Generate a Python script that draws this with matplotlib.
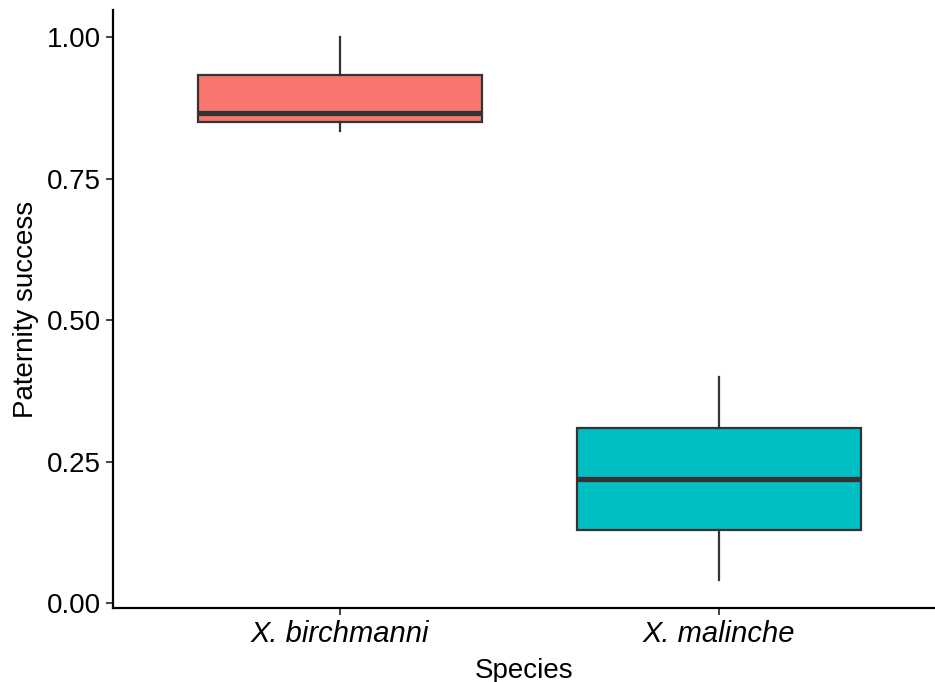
import matplotlib
matplotlib.use("Agg")
import matplotlib.pyplot as plt

plt.rcParams['font.family'] = ['Liberation Sans', 'DejaVu Sans']

# box statistics
species = ["X. birchmanni", "X. malinche"]
whis_lo = [0.834, 0.041]
q1 = [0.850, 0.130]
median = [0.866, 0.219]
q3 = [0.933, 0.310]
whis_hi = [1.000, 0.400]
fills = ["#F8766D", "#00BFC4"]

stats = []
for i, name in enumerate(species):
    stats.append({"label": name, "whislo": whis_lo[i], "q1": q1[i], "med": median[i],
                  "q3": q3[i], "whishi": whis_hi[i], "fliers": []})

fig = plt.figure(figsize=(9.35, 6.82), dpi=100)
# axes position in pixels: left 113, right 935, top 10, bottom 608
ax = fig.add_axes([113/935, 1 - 608/682, (935-113)/935, (608-10)/682])

bp = ax.bxp(stats, positions=[1, 2], widths=0.75, patch_artist=True, showcaps=False,
            boxprops=dict(edgecolor="#333333", linewidth=1.6),
            whiskerprops=dict(color="#333333", linewidth=1.6),
            medianprops=dict(color="#333333", linewidth=3.8))
for patch, c in zip(bp["boxes"], fills):
    patch.set_facecolor(c)

ax.set_xlim(0.4, 2.57)
ax.set_ylim(-0.008, 1.048)
ax.set_yticks([0, 0.25, 0.5, 0.75, 1.0])
ax.set_yticklabels(["0.00", "0.25", "0.50", "0.75", "1.00"])
ax.set_xticks([1, 2])
ax.set_xticklabels(species, style="italic", fontsize=21)

for s in ["top", "right"]:
    ax.spines[s].set_visible(False)
for s in ["left", "bottom"]:
    ax.spines[s].set_linewidth(1.6)
    ax.spines[s].set_color("black")
ax.tick_params(axis="both", length=5, width=1.3, color="#333333", labelsize=20, labelcolor="black")
ax.tick_params(axis="x", labelsize=21)
ax.set_xlabel("Species", fontsize=20, labelpad=7)
ax.set_ylabel("Paternity success", fontsize=20, labelpad=6)

fig.savefig("out.png", dpi=100)
